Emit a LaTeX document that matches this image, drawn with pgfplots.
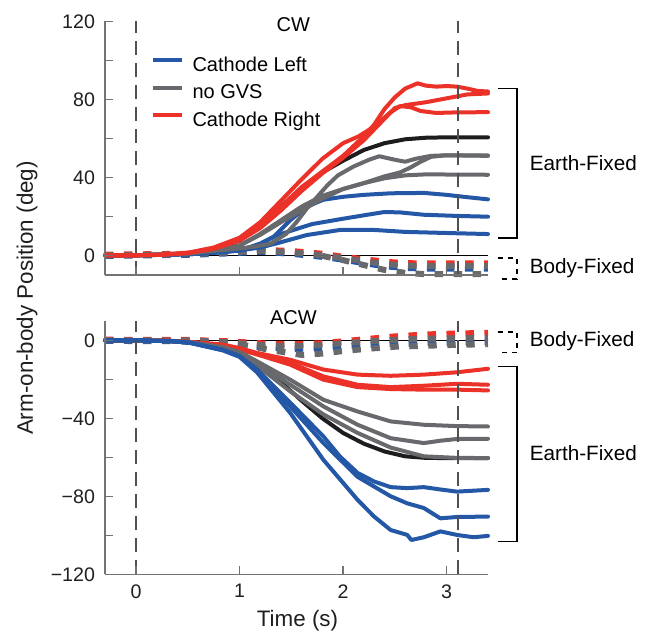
\documentclass[border=0pt]{standalone}
\usepackage{fontspec}
\setmainfont{Liberation Sans}
\usepackage{pgfplots}
\pgfplotsset{compat=1.18}
\definecolor{cblue}{RGB}{36,87,166}
\definecolor{cred}{RGB}{236,49,40}
\definecolor{cgray}{RGB}{104,105,109}
\definecolor{cblack}{RGB}{30,28,29}
\definecolor{axgray}{RGB}{115,115,115}
\definecolor{vdash}{RGB}{80,80,80}
\newcommand{\fs}{\fontsize{10}{12}\selectfont}
\newcommand{\fa}{\fontsize{10.35}{12}\selectfont}
\newcommand{\fl}{\fontsize{11.2}{13}\selectfont}
\pgfplotsset{
  panel/.style={
    scale only axis, width=191.5pt, height=126.75pt,
    xmin=-0.3, xmax=3.4,
    axis x line*=bottom, axis y line*=left,
    axis line style={draw=axgray, line width=0.8pt, -},
    tick style={draw=axgray, line width=0.8pt},
    tick align=inside,
    major tick length=4pt,
    xtick={0,1,2,3},
    clip=false, axis on top,
    tick label style={font=\fontsize{9.8}{12}\selectfont, text=black!88},
    xticklabel style={yshift=-1.5pt},
    yticklabel style={xshift=-1.5pt},
  },
  sol/.style={line width=2pt, line join=round, line cap=round, forget plot},
  bodyf/.style={line width=3pt, dash pattern=on 4.25pt off 5.25pt, forget plot},
  vline/.style={draw=vdash, line width=0.6pt, dash pattern=on 7pt off 4pt, forget plot},
  zline/.style={draw=black, line width=0.5pt, forget plot},
}
\begin{document}
\begin{tikzpicture}
% ---------------- CW panel ----------------
\begin{axis}[panel, at={(52.5pt,-137.4pt)}, anchor=south west,
  ymin=-10, ymax=120, ytick={0,20,...,120}, yticklabels={0,,40,,80,,120},
  xticklabels={},
  legend cell align=left,
  legend image code/.code={\draw[line width=2pt,#1] (0pt,0.75ex) -- (14.5pt,0.75ex);},
  legend style={at={(axis cs:0.136,103.2)}, anchor=north west, draw=none, fill=none,
    font=\fs, inner sep=0pt, row sep=0pt, column sep=4.5pt,
    nodes={inner sep=0pt, text height=8.5pt, text depth=5.25pt}}]
\addlegendimage{cblue}\addlegendentry{Cathode Left}
\addlegendimage{cgray}\addlegendentry{no GVS}
\addlegendimage{cred}\addlegendentry{Cathode Right}
\addplot[zline] coordinates {(-0.3,0) (3.4,0)};
% body-fixed (dashed)
\addplot[bodyf, cred] coordinates {(-0.3,0.3) (0.5,0.8) (0.9,2) (1.2,2.8) (1.5,2.2) (1.8,0.8) (2.0,-0.8) (2.2,-2) (2.4,-3.3) (2.6,-4) (2.8,-4.2) (3.4,-4.2)};
\addplot[bodyf, cblue] coordinates {(-0.3,-0.3) (0.5,0.2) (0.9,1) (1.2,1.8) (1.5,0.8) (1.8,-0.8) (2.0,-2.2) (2.2,-4) (2.4,-5.6) (2.6,-6.5) (2.8,-6.8) (3.4,-6.8)};
\addplot[bodyf, cgray] coordinates {(-0.3,0) (0.5,0.5) (0.9,1.5) (1.2,2.3) (1.5,1.5) (1.8,0) (2.0,-1.5) (2.2,-3) (2.4,-4.5) (2.6,-5.3) (2.8,-5.5) (3.4,-5.5)};
\addplot[bodyf, cgray] coordinates {(1.8,-0.3) (2.0,-2.5) (2.2,-5) (2.4,-7.5) (2.6,-9) (2.8,-9.7) (3.4,-9.7)};
% model
\addplot[sol, cblack] coordinates {(-0.3,0) (0,0) (0.25,0.2) (0.5,1) (0.75,3) (1.0,7.5) (1.2,15) (1.4,25) (1.6,34.5) (1.8,42.5) (2.0,48.5) (2.2,54) (2.4,57.5) (2.6,59.5) (2.8,60.3) (3.0,60.5) (3.4,60.5)};
% cathode left
\addplot[sol, cblue] coordinates {(-0.3,0) (0,0) (0.5,0.5) (0.8,1.5) (1.0,2.5) (1.17,5) (1.33,9.5) (1.49,18) (1.65,25) (1.81,28.5) (2.0,30) (2.2,31) (2.46,31.8) (2.78,32) (3.0,31) (3.2,29.8) (3.4,28.7)};
\addplot[sol, cblue] coordinates {(-0.3,0) (0,0) (0.5,0.5) (0.8,1.5) (1.0,2.5) (1.2,6) (1.35,10) (1.55,13.5) (1.7,16) (1.97,18.5) (2.2,20.5) (2.4,22.2) (2.55,22) (2.78,20.8) (3.1,20.2) (3.4,19.8)};
\addplot[sol, cblue] coordinates {(-0.3,0) (0,0) (0.5,0.5) (0.8,1.5) (1.0,2.5) (1.2,4) (1.35,6) (1.65,10.4) (1.97,13) (2.3,13) (2.6,12) (3.1,11.3) (3.4,10.9)};
% no GVS
\addplot[sol, cgray] coordinates {(-0.3,0) (0,0) (0.5,0.8) (0.8,2.5) (1.0,3.5) (1.15,4.5) (1.3,6) (1.45,11) (1.55,17) (1.65,24) (1.75,30) (1.85,36) (1.95,41) (2.1,45.5) (2.25,49) (2.35,50.8) (2.5,49) (2.6,48) (2.7,49.5) (2.85,51) (3.0,51.3) (3.2,51.3) (3.4,51.2)};
\addplot[sol, cgray] coordinates {(-0.3,0) (0,0) (0.5,1) (0.8,3) (1.0,5) (1.2,11) (1.4,18) (1.6,25) (1.8,30.5) (2.0,34) (2.2,37) (2.4,40.5) (2.55,42.5) (2.65,45) (2.75,48) (2.85,50.5) (3.0,51.3) (3.4,51)};
\addplot[sol, cgray] coordinates {(-0.3,0) (0,0) (0.5,1) (0.8,3) (1.0,5) (1.2,10.5) (1.4,17) (1.6,23) (1.8,29) (2.0,34) (2.2,37) (2.4,39.5) (2.6,41) (2.8,41.5) (3.4,41.3)};
% cathode right
\addplot[sol, cred] coordinates {(-0.3,0) (0,0) (0.25,0.3) (0.5,1.2) (0.75,3.5) (1.0,8) (1.2,15) (1.4,25) (1.6,35) (1.8,43) (2.0,51) (2.2,61) (2.3,67) (2.4,75) (2.5,81) (2.6,85.5) (2.72,88.2) (2.8,87) (2.9,86.5) (3.0,86.8) (3.1,86.5) (3.2,85.5) (3.3,84.3) (3.4,84)};
\addplot[sol, cred] coordinates {(-0.3,0) (0,0) (0.25,0.3) (0.5,1.2) (0.75,3.3) (1.0,7.5) (1.2,14) (1.4,23) (1.6,33) (1.8,42) (2.0,50) (2.2,59) (2.4,70) (2.5,75.5) (2.6,77) (2.8,78.5) (3.0,80.5) (3.2,82.5) (3.4,83)};
\addplot[sol, cred] coordinates {(-0.3,0) (0,0) (0.25,0.3) (0.5,1.3) (0.75,4) (1.0,9) (1.2,17) (1.4,28) (1.6,39) (1.8,49.5) (2.0,57.5) (2.15,61) (2.3,66) (2.45,73) (2.55,76.5) (2.65,76) (2.75,74) (2.9,73) (3.1,73.3) (3.4,73.4)};
% vertical markers
\addplot[vline] coordinates {(0,-10) (0,120)};
\addplot[vline] coordinates {(3.11,-10) (3.11,120)};
% annotations
\node[font=\fs] at (axis cs:1.52,118.5) {CW};
\draw[black, line width=0.8pt] (axis cs:3.495,85.6) -- (axis cs:3.68,85.6) -- (axis cs:3.68,8.85) -- (axis cs:3.495,8.85);
\node[font=\fa, anchor=west, inner sep=0pt] at (axis cs:3.80,47.2) {Earth-Fixed};
\draw[black, line width=0.8pt, dash pattern=on 2.5pt off 2.5pt] (axis cs:3.495,-1.5) -- (axis cs:3.68,-1.5) -- (axis cs:3.68,-12.3) -- (axis cs:3.495,-12.3);
\node[font=\fa, anchor=west, inner sep=0pt] at (axis cs:3.80,-6.7) {Body-Fixed};
\end{axis}
% ---------------- ACW panel ----------------
\begin{axis}[panel, at={(52.5pt,-287.15pt)}, anchor=south west,
  ymin=-120, ymax=10, ytick={-120,-100,...,0}, yticklabels={−120,,−80,,−40,,0},
  xticklabels={0,1,2,3}]
\addplot[zline] coordinates {(-0.3,0) (3.4,0)};
% body-fixed (dashed)
\addplot[bodyf, cred] coordinates {(-0.3,0.3) (0.5,0.2) (0.9,-0.5) (1.2,-1.5) (1.5,-2) (1.8,-1.5) (2.0,-0.5) (2.2,0.5) (2.5,2) (2.8,3) (3.1,3.5) (3.4,3.8)};
\addplot[bodyf, cblue] coordinates {(-0.3,-0.3) (0.5,-0.5) (0.9,-2) (1.2,-3.5) (1.5,-4.5) (1.8,-4) (2.0,-3.2) (2.2,-2.5) (2.5,-1.8) (2.8,-1.5) (3.1,-1) (3.4,-1)};
\addplot[bodyf, cgray] coordinates {(-0.3,0) (0.5,0) (0.9,-1) (1.2,-2.5) (1.5,-3) (1.8,-2.5) (2.0,-1.5) (2.2,-0.8) (2.4,0) (2.7,0.7) (3.0,1) (3.4,1.3)};
\addplot[bodyf, cgray] coordinates {(1.0,-2) (1.3,-5) (1.6,-7.5) (1.8,-6.8) (2.0,-5.5) (2.2,-4.5) (2.5,-3.3) (2.8,-2.8) (3.1,-2.3) (3.4,-2)};
% model
\addplot[sol, cblack] coordinates {(-0.3,0) (0,0) (0.25,-0.2) (0.5,-1) (0.75,-3) (1.0,-7) (1.2,-13) (1.4,-21.5) (1.6,-31) (1.8,-40) (2.0,-47.5) (2.2,-53) (2.4,-57) (2.6,-59.5) (2.8,-60.3) (3.0,-60.4) (3.4,-60.4)};
% cathode right
\addplot[sol, cred] coordinates {(-0.3,0) (0,0) (0.3,-0.2) (0.52,-0.8) (0.84,-2.2) (1.0,-4) (1.17,-6.5) (1.49,-10) (1.81,-15) (2.14,-17.6) (2.46,-18.2) (2.78,-17.6) (3.1,-16.4) (3.4,-14.6)};
\addplot[sol, cred] coordinates {(-0.3,0) (0,0) (0.3,-0.2) (0.52,-0.9) (0.84,-2.5) (1.0,-4.5) (1.17,-7) (1.49,-11.6) (1.81,-18.5) (2.14,-22.8) (2.46,-24) (2.78,-23.3) (3.1,-22.3) (3.4,-22.8)};
\addplot[sol, cred] coordinates {(-0.3,0) (0,0) (0.3,-0.2) (0.52,-0.9) (0.84,-2.6) (1.0,-4.7) (1.17,-7.3) (1.49,-12.5) (1.81,-20.2) (2.14,-24) (2.46,-25) (2.78,-25.3) (3.1,-25.3) (3.4,-25.7)};
% no GVS
\addplot[sol, cgray] coordinates {(-0.3,0) (0,0) (0.36,-0.5) (0.52,-1) (0.84,-3.5) (1.0,-6) (1.17,-10.8) (1.49,-20.2) (1.81,-30.5) (2.14,-36.5) (2.46,-41.6) (2.78,-43.3) (3.1,-44) (3.4,-44.2)};
\addplot[sol, cgray] coordinates {(-0.3,0) (0,0) (0.36,-0.5) (0.52,-1.1) (0.84,-3.8) (1.0,-6.5) (1.17,-12) (1.49,-22.8) (1.81,-33.9) (2.14,-43.3) (2.46,-50.2) (2.78,-52.7) (2.94,-51.5) (3.1,-50.6) (3.4,-50.5)};
\addplot[sol, cgray] coordinates {(-0.3,0) (0,0) (0.36,-0.5) (0.52,-1.2) (0.84,-4) (1.0,-7) (1.17,-13) (1.49,-26.2) (1.81,-38) (2.14,-47.5) (2.46,-55) (2.78,-59.5) (3.1,-60.3) (3.4,-60.4)};
% cathode left
\addplot[sol, cblue] coordinates {(-0.3,0) (0,0) (0.36,-0.5) (0.52,-1.2) (0.84,-4.8) (1.0,-8) (1.17,-15) (1.49,-32) (1.81,-49.3) (1.97,-59.6) (2.14,-68) (2.3,-72.4) (2.46,-75.3) (2.62,-75.8) (2.78,-75.3) (2.94,-76.5) (3.1,-77.6) (3.4,-76.7)};
\addplot[sol, cblue] coordinates {(-0.3,0) (0,0) (0.36,-0.5) (0.52,-1.3) (0.84,-5) (1.0,-8.3) (1.17,-16) (1.49,-34) (1.81,-52.7) (2.14,-70) (2.46,-80) (2.62,-83.6) (2.78,-86) (2.94,-91.3) (3.1,-90.6) (3.4,-90.4)};
\addplot[sol, cblue] coordinates {(-0.3,0) (0,0) (0.36,-0.5) (0.52,-1.3) (0.84,-5.2) (1.0,-8.5) (1.17,-16.5) (1.49,-37.3) (1.81,-61.3) (2.14,-81.8) (2.3,-90.4) (2.46,-97.3) (2.62,-99.8) (2.66,-102.4) (2.78,-101) (2.94,-98) (3.1,-99.8) (3.26,-101) (3.4,-100.3)};
% vertical markers
\addplot[vline] coordinates {(0,-120) (0,10)};
\addplot[vline] coordinates {(3.11,-120) (3.11,10)};
% annotations
\node[font=\fs] at (axis cs:1.52,11.7) {ACW};
\draw[black, line width=0.8pt, dash pattern=on 2.5pt off 2.5pt] (axis cs:3.495,4.3) -- (axis cs:3.68,4.3) -- (axis cs:3.68,-6.2) -- (axis cs:3.495,-6.2);
\node[font=\fa, anchor=west, inner sep=0pt] at (axis cs:3.80,-0.5) {Body-Fixed};
\draw[black, line width=0.8pt] (axis cs:3.495,-13.4) -- (axis cs:3.68,-13.4) -- (axis cs:3.68,-103.2) -- (axis cs:3.495,-103.2);
\node[font=\fa, anchor=west, inner sep=0pt] at (axis cs:3.80,-57.8) {Earth-Fixed};
\end{axis}
\node[font=\fl, rotate=90, text=black!88] at (13.5pt,-149pt) {Arm-on-body Position (deg)};
\node[font=\fl, text=black!88] at (148.75pt,-310.5pt) {Time (s)};
\pgfresetboundingbox
\useasboundingbox (0pt,0pt) rectangle (324.5pt,-316.5pt);
\end{tikzpicture}
\end{document}
